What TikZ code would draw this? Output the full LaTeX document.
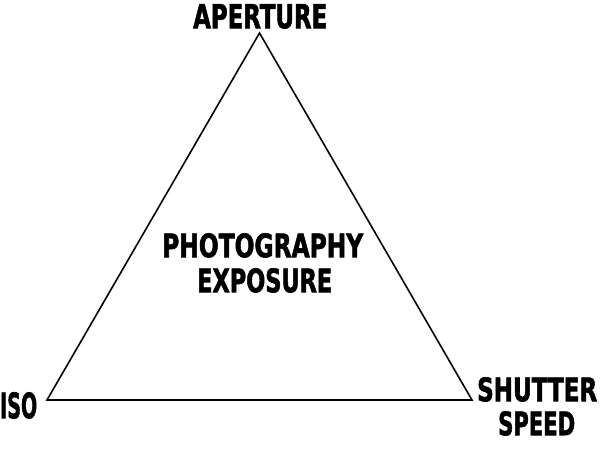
\documentclass[tikz,border=0pt]{standalone}
\usepackage{fontspec}
\newfontfamily\heavy{DejaVu Sans Condensed}[BoldFeatures={FakeBold=2}]
\begin{document}
\begin{tikzpicture}[x=1pt,y=-1pt,
  lbl/.style={inner sep=0pt,anchor=north west,font=\heavy\bfseries},
  edge/.style={line width=1.6pt,line join=miter}]
\useasboundingbox (0,0) rectangle (600,448);
\coordinate (A) at (259.5,33);
\coordinate (B) at (47,400);
\coordinate (C) at (472,400);
\draw[edge] (A) -- (B) -- (C) -- cycle;
\node[lbl] (ap) at (193,4) {\resizebox{134pt}{24pt}{APERTURE}};
\node[lbl] (iso) at (0,392) {\resizebox{37pt}{26pt}{ISO}};
\node[lbl] (sh) at (477,377) {\resizebox{120pt}{24pt}{SHUTTER}};
\node[lbl] (sp) at (498,411) {\resizebox{77pt}{24pt}{SPEED}};
\node[lbl] (ph) at (162,233) {\resizebox{201pt}{24pt}{PHOTOGRAPHY}};
\node[lbl] (ex) at (197,268) {\resizebox{135pt}{24pt}{EXPOSURE}};
\end{tikzpicture}
\end{document}
